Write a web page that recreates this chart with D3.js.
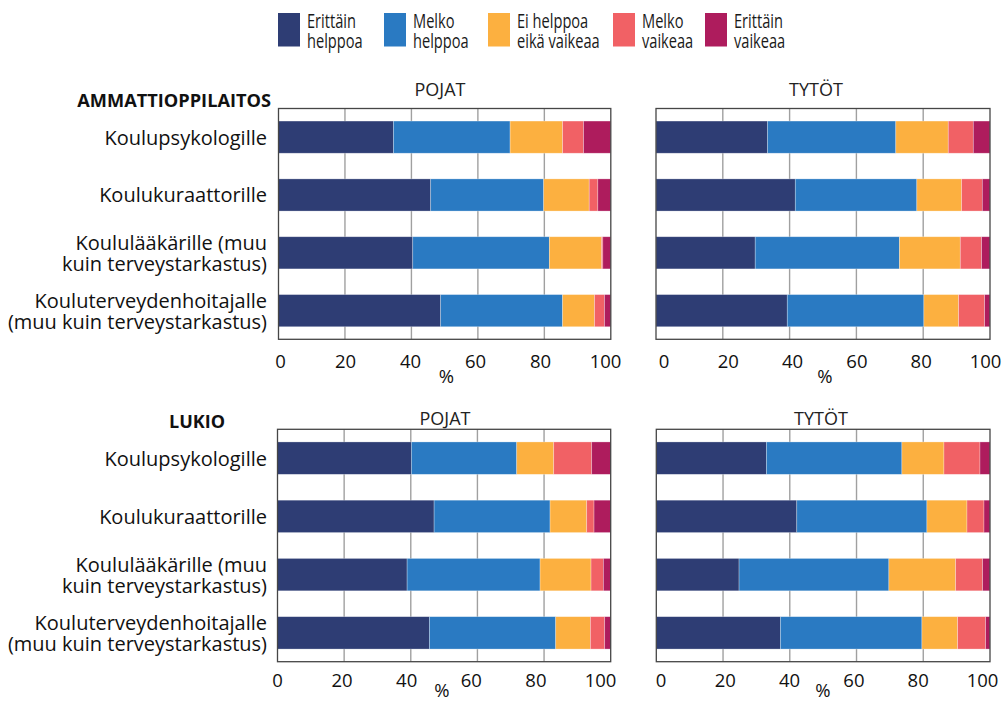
<!DOCTYPE html>
<html lang="fi">
<head>
<meta charset="UTF-8">
<title>Avun hakeminen koulussa</title>
<script src="https://d3js.org/d3.v7.min.js"></script>
<style>
  body { margin: 0; background: #fff; }
  svg { display: block; font-family: "Open Sans", sans-serif; }
</style>
</head>
<body>
<script>
// answer options (legend), two lines each
const seriesNames = ["Erittäin helppoa", "Melko helppoa", "Ei helppoa eikä vaikeaa", "Melko vaikeaa", "Erittäin vaikeaa"];
const legendLines = [["Erittäin", "helppoa"], ["Melko", "helppoa"], ["Ei helppoa", "eikä vaikeaa"], ["Melko", "vaikeaa"], ["Erittäin", "vaikeaa"]];
const colors = ["#2e3d74", "#2a7ac2", "#fcb040", "#f16165", "#ae1c5d"];

const categories = ["Koulupsykologille", "Koulukuraattorille", "Koululääkärille (muu kuin terveystarkastus)", "Kouluterveydenhoitajalle (muu kuin terveystarkastus)"];
const categoryLines = [["Koulupsykologille"], ["Koulukuraattorille"], ["Koululääkärille (muu", "kuin terveystarkastus)"], ["Kouluterveydenhoitajalle", "(muu kuin terveystarkastus)"]];

const xTicks = [0, 20, 40, 60, 80, 100];

// % per category, in the order of seriesNames
const ammPojat = [
  [34.6, 35.1, 15.8, 6.3, 8.2],
  [45.8, 34.0, 13.7, 2.6, 3.9],
  [40.4, 41.1, 15.7, 0.4, 2.4],
  [48.8, 36.7, 9.6, 3.0, 1.9]
];
const ammTytot = [
  [33.4, 38.4, 15.7, 7.5, 5.0],
  [41.7, 36.4, 13.4, 6.2, 2.3],
  [29.7, 43.2, 18.2, 6.4, 2.5],
  [39.3, 40.9, 10.4, 7.8, 1.6]
];
const lukioPojat = [
  [40.2, 31.6, 11.1, 11.4, 5.7],
  [47.0, 34.8, 11.0, 2.2, 5.0],
  [38.9, 39.9, 15.3, 3.7, 2.2],
  [45.6, 37.9, 10.4, 4.3, 1.8]
];
const lukioTytot = [
  [33.0, 40.6, 12.6, 10.8, 3.0],
  [42.1, 39.0, 12.0, 5.1, 1.8],
  [24.8, 44.9, 20.0, 8.1, 2.2],
  [37.2, 42.4, 10.7, 8.4, 1.3]
];

const width = 1008, height = 701;

const svg = d3.select("body").append("svg")
  .attr("width", width)
  .attr("height", height);

// legend (narrow type in the original, so squeeze it)
const legend = svg.append("g")
  .selectAll("g")
  .data(seriesNames)
  .join("g")
    .attr("transform", (d, i) => `translate(${[278, 384, 488, 613, 705][i]},13)`);

legend.append("rect")
  .attr("width", 22)
  .attr("height", 33.5)
  .attr("fill", (d, i) => colors[i]);

legend.append("text")
  .attr("transform", "translate(29,0) scale(0.75,1)")
  .attr("font-size", 19.5)
  .attr("fill", "#1a1a1a")
  .selectAll("tspan")
  .data((d, i) => legendLines[i])
  .join("tspan")
    .attr("x", 0)
    .attr("y", (d, j) => 14.5 + j * 20.5)
    .text(d => d);

// one panel = one box with stacked bars
function panel(values, opt) {
  const x = d3.scaleLinear().domain([0, 100]).range([opt.x0, opt.x1]);
  // the tick numbers sit a little inside the box ends in the original
  const xLab = d3.scaleLinear().domain([0, 100]).range(opt.labRange);
  const y = d3.scaleBand().domain(categories).range([opt.y0, opt.y1])
    .paddingInner(0.444).paddingOuter(0.217);

  const g = svg.append("g");

  // vertical gridlines
  g.append("g")
    .selectAll("line")
    .data(xTicks.slice(1, -1))
    .join("line")
      .attr("x1", d => x(d)).attr("x2", d => x(d))
      .attr("y1", opt.y0).attr("y2", opt.y1)
      .attr("stroke", "#a0a0a0")
      .attr("stroke-width", 1.4);

  const stack = d3.stack().keys(d3.range(seriesNames.length))
    .value((row, k) => row[k]);
  const layers = stack(values);

  g.append("g")
    .selectAll("g")
    .data(layers)
    .join("g")
      .attr("fill", (d, i) => colors[i])
    .selectAll("rect")
    .data(d => d.map((s, j) => ({ s, cat: categories[j] })))
    .join("rect")
      .attr("x", d => x(d.s[0]))
      .attr("width", d => Math.max(0, x(d.s[1]) - x(d.s[0])))
      .attr("y", d => y(d.cat))
      .attr("height", y.bandwidth())
      .attr("stroke", "rgba(255,255,255,0.4)")
      .attr("stroke-width", 0.7);

  // frame
  g.append("rect")
    .attr("x", opt.x0).attr("y", opt.y0)
    .attr("width", opt.x1 - opt.x0).attr("height", opt.y1 - opt.y0)
    .attr("fill", "none")
    .attr("stroke", "#464646")
    .attr("stroke-width", 1.3);

  // x axis numbers
  const axis = d3.axisBottom(xLab).tickValues(xTicks).tickSize(0).tickPadding(0);
  const ax = g.append("g")
    .attr("transform", `translate(0,${opt.y1})`)
    .call(axis);
  ax.select(".domain").remove();
  ax.selectAll("text")
    .attr("font-size", 18.5)
    .attr("font-family", "'Open Sans', sans-serif")
    .attr("fill", "#111")
    .attr("dy", null)
    .attr("y", opt.tickY - opt.y1);

  g.append("text")
    .attr("x", opt.pctX)
    .attr("y", opt.pctY)
    .attr("text-anchor", "middle")
    .attr("font-size", 18.5)
    .attr("fill", "#111")
    .text("%");

  g.append("text")
    .attr("x", opt.titleX)
    .attr("y", opt.titleY)
    .attr("text-anchor", "middle")
    .attr("font-size", 18)
    .attr("fill", "#222")
    .text(opt.title);

  if (opt.labels) {
    const lab = g.append("g")
      .selectAll("text")
      .data(categories)
      .join("text")
        .attr("text-anchor", "end")
        .attr("font-size", 20)
        .attr("fill", "#111");
    lab.selectAll("tspan")
      .data((d, i) => categoryLines[i].map((t, j, a) => ({ t, j, n: a.length, cat: d })))
      .join("tspan")
        .attr("x", 267)
        .attr("y", d => y(d.cat) + y.bandwidth() / 2 + 7.5 + (d.j - (d.n - 1) / 2) * 21)
        .text(d => d.t);
  }
}

const topRow = { y0: 108.5, y1: 339.3, tickY: 368, pctY: 383, titleY: 96 };
const botRow = { y0: 429.3, y1: 661.7, tickY: 687, pctY: 697, titleY: 425 };

panel(ammPojat, { ...topRow, x0: 278.5, x1: 610.8, labRange: [280, 605], title: "POJAT", titleX: 440, pctX: 446.5, labels: true });
panel(ammTytot, { ...topRow, x0: 656, x1: 990, labRange: [663.5, 985], title: "TYTÖT", titleX: 816, pctX: 825 });
panel(lukioPojat, { ...botRow, x0: 277.5, x1: 610.7, labRange: [277, 600], title: "POJAT", titleX: 445, pctX: 442, labels: true });
panel(lukioTytot, { ...botRow, x0: 656.3, x1: 990, labRange: [660.5, 982], title: "TYTÖT", titleX: 821, pctX: 823 });

// school type headings
svg.append("text")
  .attr("x", 271).attr("y", 107)
  .attr("text-anchor", "end")
  .attr("font-size", 18.2)
  .attr("font-weight", "bold")
  .attr("fill", "#111")
  .text("AMMATTIOPPILAITOS");

svg.append("text")
  .attr("x", 169).attr("y", 428)
  .attr("font-size", 18)
  .attr("font-weight", "bold")
  .attr("fill", "#111")
  .text("LUKIO");
</script>
</body>
</html>
